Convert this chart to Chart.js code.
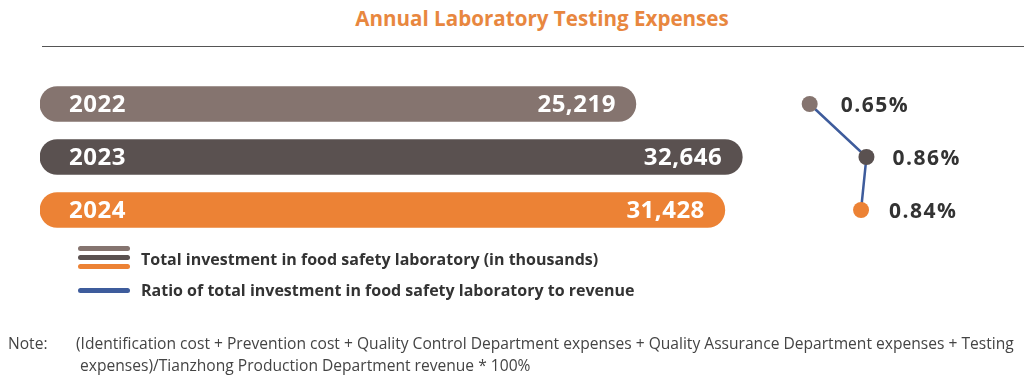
<!DOCTYPE html>
<html>
<head>
<meta charset="utf-8">
<script src="https://cdn.jsdelivr.net/npm/chart.js@4.4.1/dist/chart.umd.min.js"></script>
<style>
  html, body { margin:0; padding:0; background:#fff; }
  body { width:1024px; height:384px; position:relative; overflow:hidden; font-family:"Open Sans", sans-serif; }
  #title { position:absolute; top:4px; left:0; width:1084px; text-align:center; color:#E8873F; font-weight:700; font-size:20.6px; }
  #rule { position:absolute; top:46px; left:42px; width:982px; height:0; border-top:1.5px solid #555; }
  #wrap { position:absolute; left:0; top:0; width:1024px; height:384px; }
  .sw { position:absolute; left:78px; width:52px; height:5px; border-radius:3px; }
  .lg { position:absolute; left:141px; font-weight:700; font-size:16px; color:#333; white-space:nowrap; }
  .note { position:absolute; font-size:15.6px; color:#444; white-space:nowrap; }
</style>
</head>
<body>
<div id="title">Annual Laboratory Testing Expenses</div>
<div id="rule"></div>
<div id="wrap"><canvas id="c" width="1024" height="384"></canvas></div>
<div class="sw" style="top:246px;background:#85746F"></div>
<div class="sw" style="top:255px;background:#5A5150"></div>
<div class="sw" style="top:264px;background:#EC8235"></div>
<div class="lg" style="top:248px">Total investment in food safety laboratory (in thousands)</div>
<div class="sw" style="top:288px;background:#3E5C9C"></div>
<div class="lg" style="top:279px">Ratio of total investment in food safety laboratory to revenue</div>
<div class="note" style="left:8px;top:332px">Note:</div>
<div class="note" style="left:76px;top:332px">(Identification cost + Prevention cost + Quality Control Department expenses + Quality Assurance Department expenses + Testing</div>
<div class="note" style="left:80px;top:354px">expenses)/Tianzhong Production Department revenue * 100%</div>
<script>
const years = ["2022", "2023", "2024"];
const investment = [25219, 32646, 31428];
const ratio = [0.65, 0.86, 0.84];
const barColors = ["#85746F", "#5A5150", "#EC8235"];

const BAR_MIN = -16372, BAR_MAX = 50634;
const R_MIN = -2.197, R_MAX = 1.354;

const labelPlugin = {
  id: 'labels',
  afterDatasetsDraw(chart) {
    const ctx = chart.ctx;
    ctx.save();
    const bars = chart.getDatasetMeta(0).data;
    ctx.fillStyle = '#fff';
    ctx.font = '700 24px "Open Sans"';
    ctx.textBaseline = 'middle';
    bars.forEach((b, i) => {
      ctx.letterSpacing = '0.5px';
      ctx.textAlign = 'left';
      ctx.fillText(years[i], 69, b.y + 1);
      ctx.textAlign = 'right';
      ctx.fillText(investment[i].toLocaleString('en-US'), b.x - 20, b.y + 1);
    });
    const pts = chart.getDatasetMeta(1).data;
    ctx.fillStyle = '#333';
    ctx.font = '700 21px "Open Sans"';
    ctx.letterSpacing = '1.5px';
    ctx.textAlign = 'left';
    const offs = [31, 26, 28];
    pts.forEach((p, i) => {
      ctx.fillText(ratio[i].toFixed(2) + '%', p.x + offs[i], p.y + 2);
    });
    ctx.restore();
  }
};

new Chart(document.getElementById('c'), {
  data: {
    labels: years,
    datasets: [
      {
        type: 'bar',
        indexAxis: 'y',
        data: investment,
        base: BAR_MIN,
        backgroundColor: barColors,
        barThickness: 35,
        borderRadius: 18,
        borderSkipped: false,
        xAxisID: 'x',
        yAxisID: 'y',
        order: 2
      },
      {
        type: 'line',
        indexAxis: 'y',
        data: ratio,
        borderColor: '#3E5C9C',
        borderWidth: 2.5,
        pointRadius: 8,
        pointHoverRadius: 8,
        pointBorderWidth: 0,
        pointBackgroundColor: barColors,
        xAxisID: 'x2',
        yAxisID: 'y',
        order: 1
      }
    ]
  },
  options: {
    indexAxis: 'y',
    responsive: false,
    animation: false,
    layout: { padding: { left: 40, right: 24, top: 77.5, bottom: 147.5 } },
    plugins: { legend: { display: false }, tooltip: { enabled: false } },
    scales: {
      x: { type: 'linear', display: false, min: BAR_MIN, max: BAR_MAX },
      x2: { type: 'linear', display: false, min: R_MIN, max: R_MAX },
      y: { type: 'category', display: false, offset: true }
    }
  },
  plugins: [labelPlugin]
});
</script>
</body>
</html>
